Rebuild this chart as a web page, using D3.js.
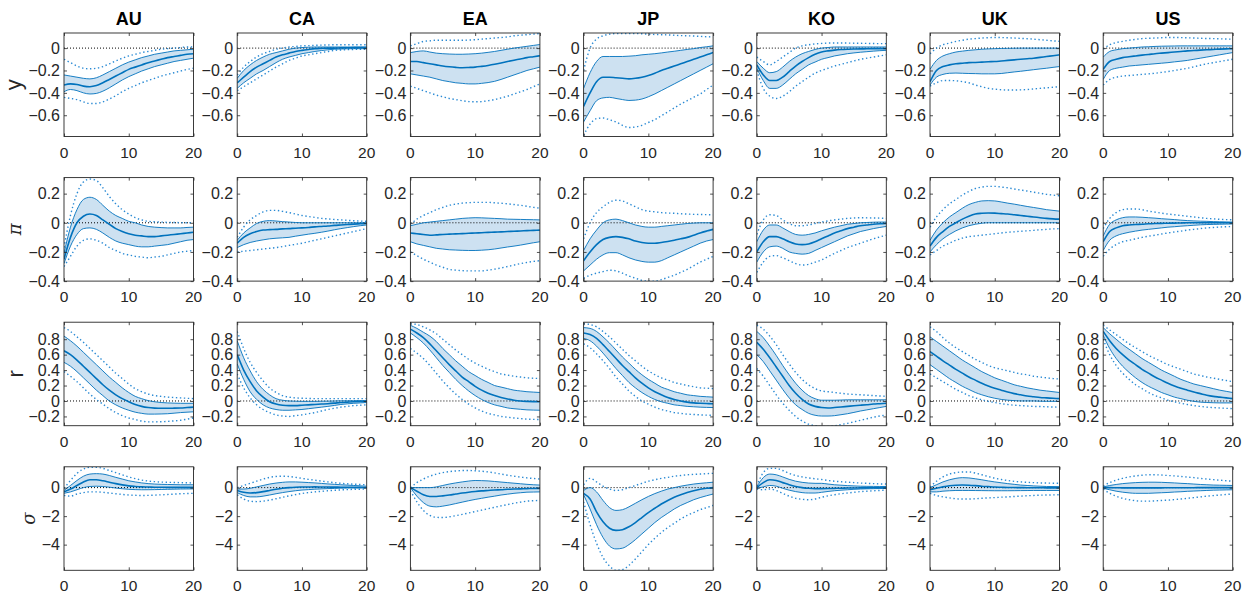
<!DOCTYPE html>
<html><head><meta charset="utf-8">
<script src="https://cdn.jsdelivr.net/npm/d3@7/dist/d3.min.js"></script>
<style>body{margin:0;background:#fff}svg{display:block}</style>
</head><body><div id="chart"></div>
<script>
const countries = ["AU","CA","EA","JP","KO","UK","US"];
const horizons = d3.range(0, 21);
const rowLabels = ["y","π","r","σ"];
const yTicks = [[0,-0.2,-0.4,-0.6],[0.2,0,-0.2,-0.4],[0.8,0.6,0.4,0.2,0,-0.2],[0,-2,-4]];
const xTicks = [0,10,20];
const yDomains = [[-0.79,0.135],[-0.4,0.31],[-0.32,1.02],[-5.8,1.46]];

// ---- output y ----
const yMed = [
[-0.33,-0.32,-0.325,-0.34,-0.345,-0.335,-0.31,-0.28,-0.25,-0.22,-0.19,-0.17,-0.15,-0.13,-0.115,-0.1,-0.085,-0.075,-0.065,-0.055,-0.05],
[-0.31,-0.26,-0.21,-0.17,-0.14,-0.11,-0.08,-0.06,-0.045,-0.03,-0.02,-0.012,-0.005,-0.002,0.0,0.0,0.002,0.003,0.004,0.005,0.005],
[-0.12,-0.12,-0.13,-0.14,-0.15,-0.16,-0.167,-0.172,-0.175,-0.173,-0.17,-0.163,-0.155,-0.145,-0.133,-0.12,-0.108,-0.097,-0.085,-0.077,-0.068],
[-0.52,-0.4,-0.3,-0.26,-0.26,-0.265,-0.27,-0.275,-0.27,-0.26,-0.245,-0.225,-0.2,-0.18,-0.16,-0.14,-0.12,-0.1,-0.08,-0.06,-0.04],
[-0.15,-0.24,-0.29,-0.29,-0.26,-0.21,-0.16,-0.12,-0.085,-0.055,-0.035,-0.025,-0.018,-0.013,-0.01,-0.008,-0.007,-0.006,-0.005,-0.005,-0.005],
[-0.3,-0.2,-0.165,-0.15,-0.14,-0.135,-0.13,-0.128,-0.125,-0.122,-0.12,-0.115,-0.11,-0.105,-0.1,-0.095,-0.09,-0.083,-0.075,-0.068,-0.06],
[-0.19,-0.12,-0.1,-0.085,-0.077,-0.07,-0.063,-0.057,-0.05,-0.045,-0.04,-0.035,-0.03,-0.025,-0.022,-0.018,-0.015,-0.012,-0.009,-0.007,-0.005]];
const yHi68 = [
[-0.24,-0.25,-0.26,-0.27,-0.275,-0.265,-0.24,-0.21,-0.18,-0.15,-0.125,-0.105,-0.085,-0.07,-0.055,-0.045,-0.035,-0.025,-0.02,-0.015,-0.01],
[-0.27,-0.2,-0.15,-0.11,-0.08,-0.055,-0.04,-0.025,-0.01,0.0,0.005,0.008,0.01,0.01,0.01,0.01,0.01,0.01,0.01,0.01,0.01],
[-0.04,-0.03,-0.025,-0.035,-0.045,-0.05,-0.053,-0.055,-0.055,-0.053,-0.05,-0.045,-0.038,-0.03,-0.02,-0.01,0.0,0.008,0.016,0.024,0.032],
[-0.36,-0.22,-0.12,-0.075,-0.075,-0.075,-0.075,-0.072,-0.068,-0.06,-0.055,-0.05,-0.043,-0.035,-0.028,-0.02,-0.012,-0.005,0.005,0.012,0.02],
[-0.12,-0.18,-0.22,-0.21,-0.17,-0.12,-0.08,-0.05,-0.03,-0.012,0.0,0.005,0.01,0.01,0.01,0.01,0.01,0.01,0.01,0.01,0.01],
[-0.19,-0.11,-0.07,-0.05,-0.035,-0.027,-0.02,-0.015,-0.01,-0.007,-0.005,-0.003,-0.002,-0.001,0.0,0.0,0.0,0.0,0.0,0.0,0.0],
[-0.08,-0.03,-0.015,-0.005,0.0,0.005,0.01,0.012,0.015,0.017,0.018,0.019,0.02,0.02,0.02,0.02,0.02,0.02,0.02,0.02,0.02]];
const yLo68 = [
[-0.39,-0.37,-0.38,-0.4,-0.41,-0.405,-0.385,-0.355,-0.32,-0.285,-0.255,-0.23,-0.205,-0.185,-0.165,-0.15,-0.135,-0.12,-0.11,-0.1,-0.09],
[-0.36,-0.31,-0.27,-0.23,-0.2,-0.165,-0.13,-0.1,-0.08,-0.065,-0.05,-0.04,-0.03,-0.022,-0.015,-0.01,-0.008,-0.006,-0.005,-0.005,-0.005],
[-0.23,-0.24,-0.25,-0.26,-0.275,-0.29,-0.3,-0.31,-0.315,-0.32,-0.32,-0.315,-0.308,-0.297,-0.28,-0.26,-0.24,-0.22,-0.2,-0.185,-0.17],
[-0.66,-0.56,-0.47,-0.445,-0.44,-0.45,-0.46,-0.468,-0.465,-0.455,-0.435,-0.41,-0.38,-0.35,-0.32,-0.29,-0.26,-0.23,-0.2,-0.17,-0.14],
[-0.18,-0.29,-0.36,-0.36,-0.33,-0.28,-0.23,-0.19,-0.15,-0.125,-0.1,-0.085,-0.07,-0.06,-0.05,-0.043,-0.037,-0.032,-0.027,-0.023,-0.02],
[-0.33,-0.26,-0.235,-0.225,-0.223,-0.225,-0.227,-0.228,-0.23,-0.23,-0.23,-0.227,-0.22,-0.213,-0.207,-0.2,-0.193,-0.186,-0.18,-0.172,-0.165],
[-0.28,-0.2,-0.18,-0.17,-0.16,-0.155,-0.15,-0.145,-0.14,-0.135,-0.13,-0.123,-0.117,-0.11,-0.1,-0.09,-0.08,-0.07,-0.06,-0.05,-0.04]];
const yHi90 = [
[-0.1,-0.13,-0.16,-0.18,-0.185,-0.18,-0.165,-0.14,-0.115,-0.09,-0.07,-0.055,-0.04,-0.03,-0.02,-0.01,-0.005,0.0,0.005,0.01,0.01],
[-0.24,-0.17,-0.12,-0.08,-0.05,-0.03,-0.01,0.0,0.01,0.015,0.02,0.022,0.025,0.027,0.028,0.03,0.03,0.03,0.03,0.03,0.03],
[0.02,0.04,0.06,0.065,0.07,0.07,0.07,0.07,0.07,0.072,0.075,0.08,0.085,0.09,0.095,0.1,0.11,0.115,0.12,0.125,0.13],
[-0.2,0.0,0.08,0.11,0.125,0.13,0.13,0.13,0.13,0.128,0.125,0.122,0.12,0.118,0.115,0.112,0.11,0.108,0.105,0.102,0.1],
[-0.08,-0.12,-0.15,-0.12,-0.08,-0.04,0.0,0.02,0.03,0.038,0.042,0.045,0.045,0.045,0.045,0.044,0.043,0.042,0.041,0.04,0.04],
[-0.05,0.0,0.03,0.045,0.06,0.07,0.08,0.085,0.09,0.093,0.095,0.094,0.092,0.09,0.087,0.084,0.08,0.075,0.07,0.065,0.06],
[-0.01,0.03,0.05,0.06,0.07,0.078,0.085,0.088,0.09,0.093,0.095,0.095,0.094,0.092,0.09,0.088,0.086,0.085,0.083,0.081,0.08]];
const yLo90 = [
[-0.44,-0.45,-0.46,-0.48,-0.495,-0.495,-0.48,-0.455,-0.425,-0.39,-0.36,-0.335,-0.31,-0.29,-0.27,-0.25,-0.235,-0.22,-0.205,-0.19,-0.18],
[-0.38,-0.345,-0.31,-0.275,-0.24,-0.205,-0.17,-0.14,-0.11,-0.09,-0.07,-0.06,-0.05,-0.04,-0.03,-0.02,-0.017,-0.014,-0.012,-0.01,-0.01],
[-0.34,-0.36,-0.38,-0.4,-0.42,-0.435,-0.45,-0.46,-0.47,-0.478,-0.48,-0.478,-0.47,-0.46,-0.445,-0.43,-0.41,-0.39,-0.37,-0.345,-0.32],
[-0.78,-0.68,-0.63,-0.625,-0.64,-0.66,-0.69,-0.71,-0.705,-0.69,-0.665,-0.64,-0.605,-0.57,-0.535,-0.5,-0.47,-0.44,-0.41,-0.37,-0.33],
[-0.2,-0.36,-0.43,-0.45,-0.43,-0.39,-0.34,-0.3,-0.26,-0.225,-0.2,-0.18,-0.16,-0.145,-0.13,-0.115,-0.1,-0.09,-0.08,-0.07,-0.06],
[-0.34,-0.31,-0.29,-0.29,-0.292,-0.3,-0.31,-0.33,-0.345,-0.36,-0.367,-0.372,-0.375,-0.375,-0.373,-0.37,-0.365,-0.36,-0.355,-0.35,-0.345],
[-0.33,-0.28,-0.26,-0.25,-0.245,-0.24,-0.235,-0.23,-0.225,-0.217,-0.21,-0.2,-0.19,-0.18,-0.167,-0.153,-0.14,-0.13,-0.12,-0.11,-0.1]];

// ---- inflation pi ----
const piMed = [
[-0.25,-0.1,0.0,0.045,0.06,0.05,0.02,-0.01,-0.04,-0.06,-0.075,-0.085,-0.09,-0.095,-0.095,-0.09,-0.085,-0.08,-0.075,-0.07,-0.065],
[-0.14,-0.1,-0.075,-0.06,-0.05,-0.047,-0.045,-0.042,-0.04,-0.037,-0.035,-0.032,-0.028,-0.025,-0.022,-0.018,-0.015,-0.012,-0.009,-0.007,-0.005],
[-0.07,-0.075,-0.08,-0.085,-0.083,-0.08,-0.078,-0.076,-0.074,-0.072,-0.07,-0.068,-0.066,-0.064,-0.062,-0.06,-0.058,-0.056,-0.054,-0.052,-0.05],
[-0.26,-0.2,-0.15,-0.115,-0.1,-0.095,-0.1,-0.11,-0.125,-0.135,-0.14,-0.14,-0.135,-0.128,-0.12,-0.11,-0.1,-0.085,-0.07,-0.057,-0.045],
[-0.2,-0.13,-0.095,-0.095,-0.11,-0.13,-0.145,-0.15,-0.145,-0.13,-0.11,-0.09,-0.07,-0.055,-0.04,-0.03,-0.02,-0.015,-0.01,-0.007,-0.005],
[-0.16,-0.1,-0.06,-0.025,0.0,0.025,0.045,0.06,0.065,0.067,0.066,0.063,0.06,0.055,0.05,0.045,0.04,0.035,0.03,0.027,0.025],
[-0.13,-0.06,-0.035,-0.02,-0.015,-0.012,-0.01,-0.007,-0.005,-0.004,-0.003,-0.002,-0.001,0.0,0.0,0.0,0.0,0.0,0.0,0.0,0.0]];
const piHi68 = [
[-0.21,-0.03,0.09,0.16,0.175,0.16,0.12,0.08,0.05,0.03,0.01,0.0,-0.015,-0.025,-0.03,-0.033,-0.035,-0.035,-0.035,-0.032,-0.03],
[-0.12,-0.07,-0.035,-0.005,0.01,0.015,0.012,0.008,0.005,0.002,0.0,0.0,0.0,0.0,0.0,0.0,0.0,0.0,0.0,0.0,0.0],
[-0.02,-0.01,0.0,0.005,0.01,0.015,0.02,0.025,0.03,0.033,0.035,0.034,0.032,0.03,0.028,0.025,0.024,0.023,0.022,0.021,0.02],
[-0.19,-0.11,-0.05,0.0,0.02,0.025,0.015,0.0,-0.015,-0.025,-0.03,-0.03,-0.025,-0.02,-0.015,-0.01,-0.005,-0.002,0.0,0.0,0.0],
[-0.13,-0.05,-0.015,-0.015,-0.035,-0.06,-0.08,-0.085,-0.08,-0.07,-0.055,-0.042,-0.03,-0.02,-0.01,-0.005,0.0,0.002,0.004,0.005,0.005],
[-0.12,-0.05,0.0,0.04,0.07,0.1,0.125,0.14,0.15,0.152,0.15,0.143,0.135,0.128,0.12,0.112,0.105,0.098,0.09,0.085,0.08],
[-0.09,-0.01,0.02,0.035,0.04,0.04,0.038,0.035,0.032,0.028,0.025,0.022,0.018,0.015,0.013,0.011,0.01,0.008,0.007,0.006,0.005]];
const piLo68 = [
[-0.28,-0.16,-0.08,-0.04,-0.035,-0.045,-0.07,-0.1,-0.125,-0.14,-0.15,-0.16,-0.165,-0.165,-0.16,-0.155,-0.15,-0.14,-0.13,-0.12,-0.115],
[-0.17,-0.15,-0.135,-0.125,-0.117,-0.11,-0.106,-0.103,-0.1,-0.092,-0.085,-0.078,-0.072,-0.065,-0.057,-0.048,-0.04,-0.033,-0.026,-0.02,-0.015],
[-0.13,-0.145,-0.155,-0.165,-0.175,-0.18,-0.185,-0.187,-0.189,-0.19,-0.19,-0.188,-0.185,-0.18,-0.173,-0.166,-0.16,-0.153,-0.145,-0.137,-0.13],
[-0.33,-0.29,-0.25,-0.22,-0.205,-0.205,-0.22,-0.24,-0.255,-0.265,-0.27,-0.27,-0.26,-0.24,-0.22,-0.2,-0.18,-0.16,-0.14,-0.125,-0.115],
[-0.27,-0.2,-0.165,-0.16,-0.175,-0.2,-0.21,-0.215,-0.21,-0.19,-0.17,-0.15,-0.13,-0.11,-0.09,-0.075,-0.06,-0.05,-0.04,-0.032,-0.025],
[-0.2,-0.15,-0.11,-0.08,-0.055,-0.035,-0.02,-0.01,-0.003,0.0,0.0,0.0,0.0,0.0,0.0,0.0,0.0,0.0,0.0,0.0,0.0],
[-0.19,-0.12,-0.09,-0.075,-0.065,-0.057,-0.05,-0.045,-0.04,-0.035,-0.03,-0.027,-0.023,-0.02,-0.017,-0.014,-0.012,-0.011,-0.01,-0.009,-0.008]];
const piHi90 = [
[-0.17,0.05,0.2,0.28,0.3,0.29,0.24,0.18,0.13,0.09,0.06,0.035,0.02,0.01,0.007,0.005,0.003,0.002,0.001,0.0,0.0],
[-0.1,-0.03,0.02,0.05,0.075,0.085,0.085,0.078,0.07,0.06,0.05,0.043,0.037,0.03,0.027,0.023,0.02,0.017,0.014,0.012,0.01],
[-0.01,0.025,0.05,0.07,0.09,0.105,0.12,0.128,0.135,0.138,0.14,0.14,0.14,0.137,0.134,0.13,0.125,0.12,0.113,0.106,0.1],
[-0.11,0.0,0.07,0.11,0.14,0.155,0.15,0.13,0.11,0.09,0.08,0.075,0.07,0.067,0.065,0.062,0.06,0.058,0.057,0.056,0.055],
[-0.08,0.02,0.055,0.05,0.02,-0.005,-0.02,-0.02,-0.015,-0.005,0.005,0.013,0.02,0.025,0.03,0.033,0.035,0.034,0.033,0.032,0.03],
[-0.03,0.04,0.09,0.13,0.16,0.19,0.215,0.235,0.245,0.25,0.25,0.245,0.24,0.232,0.225,0.218,0.21,0.203,0.195,0.19,0.185],
[-0.04,0.03,0.07,0.09,0.095,0.095,0.09,0.08,0.073,0.066,0.06,0.055,0.05,0.045,0.04,0.035,0.03,0.027,0.024,0.022,0.02]];
const piLo90 = [
[-0.3,-0.23,-0.16,-0.12,-0.11,-0.12,-0.14,-0.17,-0.19,-0.21,-0.22,-0.23,-0.235,-0.24,-0.235,-0.23,-0.22,-0.21,-0.2,-0.195,-0.19],
[-0.2,-0.195,-0.19,-0.185,-0.18,-0.175,-0.17,-0.163,-0.155,-0.148,-0.14,-0.13,-0.12,-0.11,-0.1,-0.09,-0.08,-0.07,-0.06,-0.05,-0.04],
[-0.2,-0.225,-0.25,-0.27,-0.29,-0.305,-0.32,-0.325,-0.328,-0.33,-0.33,-0.33,-0.325,-0.318,-0.31,-0.3,-0.29,-0.28,-0.272,-0.265,-0.26],
[-0.38,-0.36,-0.345,-0.335,-0.325,-0.33,-0.345,-0.365,-0.38,-0.395,-0.4,-0.4,-0.39,-0.375,-0.36,-0.34,-0.32,-0.295,-0.27,-0.25,-0.23],
[-0.34,-0.27,-0.23,-0.225,-0.24,-0.26,-0.28,-0.29,-0.285,-0.27,-0.255,-0.232,-0.21,-0.19,-0.17,-0.155,-0.14,-0.125,-0.11,-0.097,-0.085],
[-0.22,-0.19,-0.16,-0.14,-0.12,-0.105,-0.095,-0.09,-0.085,-0.08,-0.075,-0.07,-0.065,-0.062,-0.058,-0.055,-0.052,-0.048,-0.045,-0.042,-0.04],
[-0.23,-0.18,-0.15,-0.13,-0.12,-0.11,-0.1,-0.092,-0.085,-0.077,-0.07,-0.063,-0.057,-0.05,-0.045,-0.04,-0.035,-0.032,-0.029,-0.027,-0.025]];

// ---- interest rate r ----
const rMed = [
[0.65,0.6,0.53,0.45,0.37,0.29,0.21,0.14,0.08,0.03,-0.01,-0.045,-0.07,-0.085,-0.092,-0.095,-0.095,-0.093,-0.09,-0.085,-0.08],
[0.6,0.4,0.25,0.13,0.05,-0.01,-0.04,-0.055,-0.06,-0.06,-0.055,-0.05,-0.045,-0.04,-0.035,-0.028,-0.02,-0.015,-0.01,-0.007,-0.005],
[0.93,0.88,0.82,0.74,0.65,0.56,0.47,0.39,0.31,0.25,0.19,0.14,0.1,0.07,0.045,0.025,0.01,0.0,-0.005,-0.008,-0.01],
[0.88,0.86,0.81,0.73,0.64,0.55,0.46,0.38,0.3,0.23,0.17,0.12,0.08,0.045,0.02,0.0,-0.015,-0.025,-0.03,-0.033,-0.035],
[0.76,0.67,0.56,0.44,0.32,0.2,0.1,0.02,-0.04,-0.07,-0.085,-0.09,-0.085,-0.078,-0.07,-0.062,-0.055,-0.048,-0.04,-0.035,-0.03],
[0.64,0.58,0.52,0.465,0.41,0.36,0.31,0.27,0.23,0.195,0.165,0.14,0.115,0.095,0.08,0.065,0.055,0.045,0.04,0.035,0.03],
[0.9,0.78,0.68,0.6,0.53,0.47,0.41,0.36,0.31,0.27,0.23,0.195,0.165,0.14,0.115,0.095,0.075,0.06,0.05,0.04,0.03]];
const rHi68 = [
[0.84,0.78,0.71,0.63,0.55,0.47,0.39,0.31,0.24,0.17,0.11,0.06,0.03,0.005,-0.01,-0.02,-0.025,-0.028,-0.03,-0.03,-0.03],
[0.78,0.56,0.39,0.25,0.15,0.08,0.03,0.01,0.0,-0.003,-0.005,-0.005,-0.005,-0.003,-0.002,0.0,0.002,0.003,0.004,0.005,0.005],
[0.98,0.94,0.89,0.84,0.77,0.68,0.6,0.52,0.45,0.38,0.33,0.28,0.24,0.2,0.18,0.16,0.14,0.13,0.12,0.115,0.11],
[0.95,0.94,0.9,0.83,0.75,0.66,0.57,0.49,0.41,0.34,0.28,0.23,0.18,0.15,0.12,0.1,0.08,0.07,0.06,0.055,0.05],
[0.9,0.82,0.71,0.59,0.46,0.34,0.23,0.14,0.07,0.03,0.01,0.01,0.01,0.012,0.015,0.015,0.015,0.015,0.015,0.015,0.015],
[0.83,0.77,0.71,0.65,0.59,0.53,0.48,0.43,0.38,0.34,0.3,0.27,0.24,0.21,0.19,0.17,0.155,0.14,0.13,0.12,0.11],
[0.95,0.87,0.8,0.73,0.67,0.61,0.55,0.5,0.45,0.4,0.36,0.32,0.28,0.25,0.22,0.2,0.18,0.16,0.14,0.125,0.11]];
const rLo68 = [
[0.5,0.45,0.38,0.3,0.22,0.14,0.07,0.0,-0.05,-0.09,-0.12,-0.145,-0.16,-0.17,-0.17,-0.168,-0.165,-0.158,-0.15,-0.145,-0.14],
[0.48,0.28,0.12,0.02,-0.05,-0.09,-0.11,-0.12,-0.12,-0.115,-0.11,-0.1,-0.09,-0.08,-0.07,-0.058,-0.045,-0.037,-0.03,-0.025,-0.02],
[0.88,0.82,0.75,0.66,0.56,0.46,0.37,0.28,0.2,0.13,0.07,0.02,-0.02,-0.05,-0.07,-0.09,-0.1,-0.108,-0.115,-0.118,-0.12],
[0.81,0.78,0.71,0.62,0.52,0.42,0.33,0.24,0.17,0.11,0.06,0.02,-0.01,-0.03,-0.05,-0.06,-0.07,-0.075,-0.08,-0.083,-0.085],
[0.6,0.51,0.39,0.27,0.15,0.04,-0.05,-0.11,-0.16,-0.185,-0.195,-0.195,-0.19,-0.178,-0.165,-0.148,-0.13,-0.115,-0.1,-0.085,-0.07],
[0.47,0.41,0.35,0.29,0.24,0.19,0.15,0.11,0.08,0.055,0.035,0.02,0.01,0.005,0.0,0.0,0.0,-0.003,-0.005,-0.005,-0.005],
[0.85,0.68,0.55,0.45,0.37,0.3,0.24,0.19,0.15,0.11,0.08,0.05,0.03,0.01,-0.005,-0.015,-0.02,-0.023,-0.025,-0.025,-0.025]];
const rHi90 = [
[0.95,0.9,0.83,0.76,0.68,0.6,0.52,0.44,0.36,0.29,0.22,0.16,0.12,0.09,0.07,0.06,0.05,0.045,0.04,0.035,0.03],
[0.9,0.68,0.5,0.37,0.26,0.17,0.11,0.07,0.05,0.04,0.035,0.033,0.03,0.03,0.03,0.03,0.03,0.03,0.03,0.03,0.03],
[1.0,0.99,0.96,0.92,0.87,0.8,0.73,0.66,0.6,0.54,0.49,0.45,0.41,0.38,0.35,0.335,0.32,0.31,0.3,0.295,0.29],
[1.0,0.99,0.96,0.9,0.83,0.75,0.67,0.59,0.52,0.45,0.39,0.34,0.3,0.27,0.24,0.22,0.2,0.185,0.17,0.165,0.16],
[0.98,0.93,0.84,0.73,0.6,0.48,0.37,0.28,0.21,0.16,0.13,0.12,0.11,0.1,0.09,0.085,0.08,0.075,0.07,0.065,0.06],
[0.96,0.9,0.82,0.75,0.69,0.64,0.59,0.54,0.5,0.46,0.43,0.41,0.39,0.37,0.35,0.34,0.32,0.31,0.3,0.29,0.285],
[0.98,0.92,0.86,0.8,0.74,0.69,0.64,0.59,0.55,0.51,0.47,0.44,0.41,0.38,0.35,0.33,0.31,0.295,0.28,0.265,0.25]];
const rLo90 = [
[0.38,0.32,0.25,0.17,0.09,0.02,-0.04,-0.1,-0.15,-0.19,-0.22,-0.24,-0.26,-0.27,-0.27,-0.268,-0.265,-0.258,-0.25,-0.235,-0.22],
[0.35,0.17,0.04,-0.05,-0.11,-0.15,-0.18,-0.195,-0.2,-0.19,-0.18,-0.165,-0.15,-0.13,-0.11,-0.095,-0.08,-0.07,-0.06,-0.055,-0.05],
[0.68,0.62,0.55,0.46,0.36,0.26,0.17,0.09,0.02,-0.04,-0.09,-0.13,-0.16,-0.18,-0.2,-0.21,-0.22,-0.228,-0.235,-0.238,-0.24],
[0.74,0.69,0.61,0.52,0.42,0.31,0.22,0.13,0.06,0.0,-0.04,-0.08,-0.11,-0.13,-0.15,-0.16,-0.17,-0.175,-0.18,-0.183,-0.185],
[0.42,0.32,0.2,0.08,-0.03,-0.12,-0.2,-0.26,-0.3,-0.32,-0.33,-0.33,-0.32,-0.305,-0.29,-0.27,-0.25,-0.23,-0.21,-0.195,-0.18],
[0.35,0.3,0.25,0.2,0.15,0.11,0.07,0.04,0.015,-0.005,-0.02,-0.035,-0.045,-0.055,-0.06,-0.065,-0.07,-0.072,-0.075,-0.078,-0.08],
[0.8,0.6,0.46,0.36,0.28,0.21,0.16,0.11,0.07,0.04,0.01,-0.01,-0.03,-0.045,-0.06,-0.07,-0.08,-0.085,-0.09,-0.095,-0.1]];

// ---- uncertainty sigma ----
const sMed = [
[-0.3,-0.1,0.15,0.4,0.55,0.55,0.48,0.38,0.28,0.19,0.12,0.08,0.05,0.04,0.03,0.025,0.02,0.02,0.02,0.02,0.02],
[-0.2,-0.33,-0.38,-0.35,-0.28,-0.2,-0.12,-0.05,0.0,0.03,0.04,0.045,0.05,0.045,0.04,0.035,0.03,0.025,0.02,0.015,0.01],
[0.0,-0.25,-0.5,-0.62,-0.62,-0.58,-0.52,-0.45,-0.38,-0.32,-0.27,-0.23,-0.2,-0.17,-0.15,-0.12,-0.1,-0.085,-0.07,-0.06,-0.05],
[-0.4,-0.8,-1.7,-2.4,-2.85,-3.0,-2.95,-2.75,-2.45,-2.1,-1.75,-1.45,-1.15,-0.9,-0.68,-0.5,-0.35,-0.22,-0.12,-0.05,0.0],
[0.0,0.35,0.55,0.5,0.35,0.2,0.08,0.0,-0.05,-0.07,-0.07,-0.065,-0.05,-0.04,-0.03,-0.025,-0.02,-0.015,-0.01,-0.005,0.0],
[-0.15,-0.05,0.05,0.13,0.17,0.18,0.17,0.14,0.1,0.07,0.04,0.025,0.01,0.005,0.0,-0.005,-0.01,-0.012,-0.015,-0.018,-0.02],
[0.0,0.0,-0.01,-0.015,-0.02,-0.02,-0.02,-0.02,-0.015,-0.015,-0.01,-0.01,-0.01,-0.005,-0.005,0.0,0.0,0.0,0.0,0.0,0.0]];
const sHi68 = [
[-0.2,0.15,0.5,0.8,0.95,0.98,0.95,0.85,0.72,0.6,0.48,0.4,0.33,0.28,0.25,0.23,0.22,0.21,0.2,0.2,0.2],
[-0.1,-0.1,-0.05,0.05,0.15,0.25,0.32,0.37,0.4,0.4,0.38,0.355,0.33,0.295,0.26,0.23,0.2,0.175,0.15,0.125,0.1],
[0.0,0.0,0.0,0.0,0.05,0.15,0.25,0.33,0.4,0.46,0.5,0.49,0.47,0.43,0.39,0.35,0.31,0.27,0.23,0.2,0.18],
[-0.2,0.0,-0.3,-0.9,-1.4,-1.6,-1.55,-1.35,-1.1,-0.85,-0.62,-0.42,-0.25,-0.1,0.0,0.1,0.18,0.25,0.3,0.34,0.38],
[0.05,0.7,0.95,0.9,0.75,0.58,0.45,0.37,0.32,0.3,0.3,0.25,0.2,0.17,0.14,0.12,0.1,0.09,0.085,0.08,0.08],
[0.0,0.2,0.4,0.55,0.65,0.7,0.68,0.62,0.55,0.47,0.4,0.34,0.28,0.23,0.18,0.15,0.12,0.1,0.08,0.075,0.07],
[0.05,0.15,0.22,0.28,0.32,0.35,0.37,0.38,0.38,0.37,0.35,0.33,0.3,0.28,0.25,0.22,0.2,0.18,0.17,0.16,0.15]];
const sLo68 = [
[-0.4,-0.3,-0.15,0.0,0.08,0.1,0.08,0.03,-0.03,-0.08,-0.12,-0.14,-0.15,-0.148,-0.14,-0.13,-0.12,-0.11,-0.1,-0.095,-0.09],
[-0.35,-0.55,-0.65,-0.65,-0.6,-0.52,-0.43,-0.35,-0.28,-0.22,-0.17,-0.14,-0.11,-0.09,-0.07,-0.055,-0.04,-0.03,-0.02,-0.015,-0.01],
[0.0,-0.6,-1.05,-1.3,-1.35,-1.3,-1.22,-1.12,-1.02,-0.92,-0.83,-0.75,-0.67,-0.6,-0.52,-0.46,-0.4,-0.36,-0.32,-0.31,-0.3],
[-0.5,-1.5,-2.6,-3.5,-4.1,-4.3,-4.25,-4.0,-3.65,-3.25,-2.85,-2.45,-2.1,-1.8,-1.5,-1.25,-1.05,-0.85,-0.7,-0.57,-0.45],
[-0.05,0.05,0.15,0.1,-0.05,-0.18,-0.28,-0.35,-0.38,-0.38,-0.33,-0.27,-0.22,-0.18,-0.15,-0.12,-0.1,-0.085,-0.075,-0.065,-0.06],
[-0.3,-0.3,-0.25,-0.22,-0.2,-0.2,-0.2,-0.205,-0.21,-0.215,-0.22,-0.22,-0.22,-0.215,-0.21,-0.205,-0.2,-0.2,-0.2,-0.2,-0.2],
[-0.05,-0.15,-0.25,-0.32,-0.37,-0.4,-0.4,-0.4,-0.38,-0.36,-0.34,-0.31,-0.29,-0.26,-0.24,-0.22,-0.2,-0.18,-0.17,-0.16,-0.15]];
const sHi90 = [
[-0.05,0.5,1.0,1.3,1.42,1.42,1.35,1.2,1.05,0.9,0.75,0.63,0.53,0.46,0.42,0.39,0.37,0.36,0.35,0.34,0.33],
[0.0,0.15,0.3,0.45,0.6,0.72,0.78,0.8,0.78,0.72,0.65,0.58,0.52,0.46,0.4,0.35,0.3,0.27,0.24,0.22,0.2],
[0.0,0.35,0.6,0.8,0.95,1.05,1.12,1.17,1.2,1.2,1.18,1.15,1.1,1.03,0.95,0.87,0.8,0.74,0.68,0.64,0.6],
[0.2,0.65,0.4,0.1,-0.1,-0.2,-0.15,0.0,0.15,0.3,0.45,0.55,0.65,0.72,0.8,0.85,0.9,0.93,0.95,0.98,1.0],
[0.1,1.05,1.35,1.35,1.2,1.0,0.85,0.75,0.68,0.62,0.57,0.5,0.45,0.41,0.38,0.35,0.32,0.3,0.28,0.26,0.25],
[0.05,0.45,0.75,0.95,1.05,1.1,1.1,1.02,0.9,0.78,0.66,0.57,0.5,0.44,0.4,0.37,0.35,0.33,0.32,0.31,0.3],
[0.1,0.35,0.52,0.65,0.75,0.82,0.87,0.9,0.9,0.88,0.85,0.82,0.78,0.74,0.7,0.65,0.6,0.56,0.52,0.48,0.45]];
const sLo90 = [
[-0.55,-0.6,-0.45,-0.35,-0.3,-0.3,-0.33,-0.38,-0.43,-0.48,-0.52,-0.54,-0.55,-0.545,-0.53,-0.505,-0.48,-0.455,-0.43,-0.415,-0.4],
[-0.5,-0.8,-0.95,-0.98,-0.95,-0.88,-0.78,-0.68,-0.58,-0.49,-0.41,-0.35,-0.3,-0.26,-0.22,-0.19,-0.16,-0.14,-0.12,-0.11,-0.1],
[-0.2,-1.0,-1.6,-1.95,-2.08,-2.1,-2.05,-1.97,-1.88,-1.78,-1.68,-1.58,-1.48,-1.38,-1.28,-1.19,-1.1,-1.02,-0.95,-0.92,-0.9],
[-1.0,-2.6,-3.9,-4.9,-5.5,-5.8,-5.75,-5.45,-5.0,-4.5,-4.0,-3.55,-3.15,-2.8,-2.5,-2.2,-1.95,-1.75,-1.55,-1.4,-1.25],
[-0.1,-0.15,-0.1,-0.2,-0.4,-0.6,-0.75,-0.82,-0.85,-0.8,-0.68,-0.58,-0.5,-0.43,-0.38,-0.33,-0.28,-0.25,-0.22,-0.2,-0.18],
[-0.4,-0.55,-0.65,-0.72,-0.78,-0.8,-0.8,-0.78,-0.75,-0.72,-0.7,-0.67,-0.65,-0.62,-0.6,-0.57,-0.55,-0.53,-0.52,-0.51,-0.5],
[-0.1,-0.4,-0.6,-0.75,-0.85,-0.92,-0.95,-0.95,-0.93,-0.9,-0.88,-0.84,-0.8,-0.75,-0.7,-0.65,-0.6,-0.56,-0.52,-0.48,-0.45]];

const rowsData = [
  {med:yMed, hi68:yHi68, lo68:yLo68, hi90:yHi90, lo90:yLo90},
  {med:piMed, hi68:piHi68, lo68:piLo68, hi90:piHi90, lo90:piLo90},
  {med:rMed, hi68:rHi68, lo68:rLo68, hi90:rHi90, lo90:rLo90},
  {med:sMed, hi68:sHi68, lo68:sLo68, hi90:sHi90, lo90:sLo90}
];

// ---- layout ----
const W = 1249, H = 599;
const panelW = 129.5, panelH = 103.5;
const colX0 = 64, colStep = 173.2;
const rowY0 = 33, rowStep = 144.6;
const lineBlue = "#0072BD", fillBlue = "#cde1f1", dotBlue = "#2a8ad4", axisCol = "#262626";
const fontFam = "'Liberation Sans', Arial, Helvetica, sans-serif";
const labelX = [15, 16, 15, 30];
const fmt = d3.format("");

const svg = d3.select("#chart").append("svg").attr("width", W).attr("height", H);

const x = d3.scaleLinear().domain([0,20]).range([0, panelW]);

countries.forEach((c, ci) => {
  svg.append("text").attr("x", colX0 + ci*colStep + panelW/2).attr("y", 25)
    .attr("text-anchor","middle").attr("font-family", fontFam).attr("font-weight","bold")
    .attr("font-size", 18).attr("fill","#000").text(c);
});

rowsData.forEach((rd, ri) => {
  const top = rowY0 + ri*rowStep;
  const y = d3.scaleLinear().domain(yDomains[ri]).range([panelH, 0]);
  const lab = svg.append("text")
    .attr("transform", `translate(${labelX[ri]},${top + panelH/2}) rotate(-90)`)
    .attr("text-anchor","middle").attr("fill", axisCol).text(rowLabels[ri]);
  if (ri === 1 || ri === 3) lab.attr("font-size", 18).attr("font-family","'DejaVu Serif', 'Liberation Serif', serif").attr("dy","0.3em").attr("font-style","italic");
  else lab.attr("font-size", 22).attr("font-family", fontFam).attr("dy", ri===0 ? "0.25em" : "0.35em");

  countries.forEach((c, ci) => {
    const left = colX0 + ci*colStep;
    const g = svg.append("g").attr("transform", `translate(${left},${top})`);
    const clipId = `clip-${ri}-${ci}`;
    g.append("clipPath").attr("id", clipId).append("rect")
      .attr("width", panelW).attr("height", panelH);
    const pg = g.append("g").attr("clip-path", `url(#${clipId})`);

    const lo68 = rd.lo68[ci], hi68 = rd.hi68[ci];
    const area = d3.area().x((d,i)=>x(horizons[i])).y0((d,i)=>y(lo68[i])).y1((d,i)=>y(hi68[i]))
      .curve(d3.curveMonotoneX);
    pg.append("path").attr("d", area(horizons)).attr("fill", fillBlue).attr("stroke","none");

    pg.append("line").attr("x1", 0).attr("x2", panelW).attr("y1", y(0)).attr("y2", y(0))
      .attr("stroke","#000").attr("stroke-width",1).attr("stroke-dasharray","1,2");

    const line = d3.line().x((d,i)=>x(horizons[i])).y(d=>y(d)).curve(d3.curveMonotoneX);
    [rd.hi90[ci], rd.lo90[ci]].forEach(s => {
      pg.append("path").attr("d", line(s)).attr("fill","none").attr("stroke", dotBlue)
        .attr("stroke-width",1.4).attr("stroke-dasharray","1.4,2.6");
    });
    [hi68, lo68].forEach(s => {
      pg.append("path").attr("d", line(s)).attr("fill","none").attr("stroke", lineBlue)
        .attr("stroke-width",0.9);
    });
    pg.append("path").attr("d", line(rd.med[ci])).attr("fill","none").attr("stroke", lineBlue)
      .attr("stroke-width",1.6);

    // tick marks (inward, all four sides) from d3 axes
    const axL = g.append("g").call(d3.axisLeft(y).tickValues(yTicks[ri]).tickSize(-3).tickFormat(""));
    const axR = g.append("g").attr("transform", `translate(${panelW},0)`)
      .call(d3.axisRight(y).tickValues(yTicks[ri]).tickSize(-3).tickFormat(""));
    const axB = g.append("g").attr("transform", `translate(0,${panelH})`)
      .call(d3.axisBottom(x).tickValues(xTicks).tickSize(-3).tickFormat(""));
    const axT = g.append("g").call(d3.axisTop(x).tickValues(xTicks).tickSize(-3).tickFormat(""));
    [axL, axR, axB, axT].forEach(a => {
      a.select(".domain").remove();
      a.selectAll("text").remove();
      a.selectAll("line").attr("stroke", axisCol).attr("stroke-width", 0.8);
    });

    // tick labels placed with the same scales
    g.append("g").selectAll("text").data(yTicks[ri]).join("text")
      .attr("x", -4).attr("y", d => y(d)).attr("dy", "0.36em")
      .attr("text-anchor", "end").attr("font-family", fontFam).attr("font-size", 16)
      .attr("fill", axisCol).text(d => fmt(d));
    g.append("g").selectAll("text").data(xTicks).join("text")
      .attr("x", d => x(d)).attr("y", panelH + 21)
      .attr("text-anchor", "middle").attr("font-family", fontFam).attr("font-size", 15.5)
      .attr("fill", axisCol).text(d => fmt(d));

    g.append("rect").attr("width", panelW).attr("height", panelH).attr("fill","none")
      .attr("stroke", axisCol).attr("stroke-width", 0.9);
  });
});
</script>
</body></html>
